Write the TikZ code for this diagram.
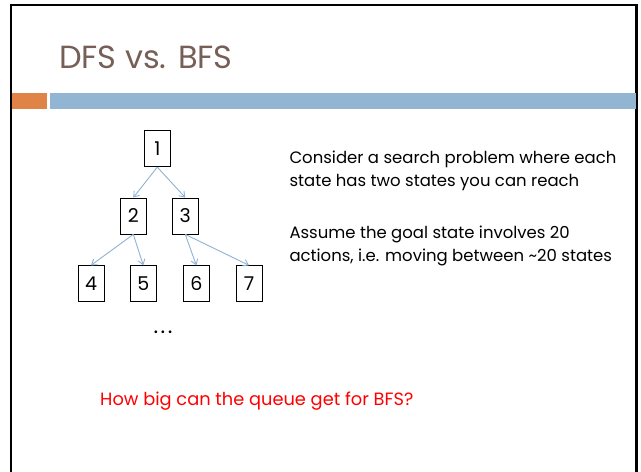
\documentclass[tikz,border=0pt]{standalone}
\usepackage{fontspec}
\setmainfont{Poppins}
\usetikzlibrary{arrows.meta}
\definecolor{titlebrown}{HTML}{755F56}
\definecolor{baramber}{HTML}{DF8446}
\definecolor{barblue}{HTML}{93B5D4}
\definecolor{edgeblue}{HTML}{8FB3D6}
\tikzset{
  state/.style={draw=black, line width=0.8pt, minimum width=26pt, minimum height=36pt,
    inner sep=0pt, font=\fontsize{19}{22}\selectfont},
  edge/.style={draw=edgeblue, line width=0.9pt, -{Straight Barb[length=5pt,width=7pt]}},
  body/.style={anchor=base west, inner sep=0pt, font=\fontsize{16.5}{20}\selectfont},
}
\begin{document}
\begin{tikzpicture}[x=1pt, y=-1pt]
  \useasboundingbox (0,0) rectangle (641,472);
  \fill[white] (0,0) rectangle (641,472);
  % slide frame
  \draw[line width=2.2pt, black] (11,480) -- (11,5) -- (636.5,5) -- (636.5,480);
  % title and header bars
  \node[anchor=base west, inner sep=0pt, text=titlebrown,
        font=\fontsize{32}{36}\selectfont] (title) at (59,68.5) {DFS vs. BFS};
  \fill[baramber] (12,93) rectangle (47,109);
  \fill[barblue] (50,93) rectangle (635.5,109);
  % tree of states
  \node[state] (n1) at (157.3,148.7) {1};
  \node[state] (n2) at (133.3,216) {2};
  \node[state] (n3) at (185.3,216) {3};
  \node[state] (n4) at (91,283.7) {4};
  \node[state] (n5) at (143.3,283.7) {5};
  \node[state] (n6) at (196.3,283.7) {6};
  \node[state] (n7) at (249,283.7) {7};
  \node[anchor=base, inner sep=0pt, font=\fontsize{22}{24}\selectfont] (dots) at (163,333)
    {.\hspace{2.5pt}.\hspace{2.5pt}.};
  \draw[edge] (n1.south) -- (n2.north);
  \draw[edge] (n1.south) -- (n3.north);
  \draw[edge] (n2.south) -- (n4.north);
  \draw[edge] (n2.south) -- (n5.north);
  \draw[edge] (n3.south) -- (n6.north);
  \draw[edge] (n3.south) -- (n7.north);
  % explanation
  \node[body] (t1) at (289.3,163) {Consider a search problem where each};
  \node[body] (t2) at (289.3,186.7) {state has two states you can reach};
  \node[body] (t3) at (289.3,238) {Assume the goal state involves 20};
  \node[body] (t4) at (289.3,261.7) {actions, i.e. moving between \textasciitilde20 states};
  \node[body, text=red, font=\fontsize{17.8}{21}\selectfont] (q) at (100,405) {How big can the queue get for BFS?};
\end{tikzpicture}
\end{document}
